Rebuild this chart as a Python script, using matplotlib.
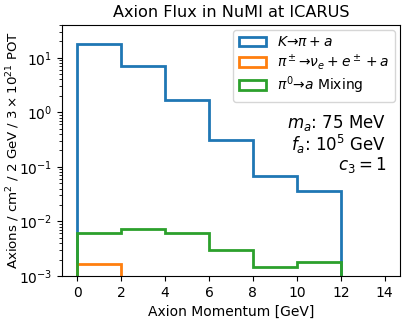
import matplotlib
matplotlib.use("Agg")
import matplotlib.pyplot as plt
import numpy as np

bin_edges = [0, 2, 4, 6, 8, 10, 12, 14]
bin_centers = [1, 3, 5, 7, 9, 11, 13]
flux_kaon = [18.0, 7.1, 1.66, 0.31, 0.068, 0.036, 0.0]
flux_pion_charged = [0.00167, 0.0, 0.0, 0.0, 0.0, 0.0, 0.0]
flux_pion_mixing = [0.0062, 0.0072, 0.0062, 0.0030, 0.00147, 0.00178, 0.0]

labels = [r'$K$→$\pi + a$',
          r'$\pi^\pm$→$\nu_e + e^\pm + a$',
          r'$\pi^0$→$a$ Mixing']

fig = plt.figure(figsize=(4.07, 3.19), dpi=100)
ax = fig.add_axes([0.152, 0.135, 0.831, 0.787])

for w, lab in zip([flux_kaon, flux_pion_charged, flux_pion_mixing], labels):
    ax.hist(bin_centers, bins=bin_edges, weights=w, histtype='step',
            linewidth=2, label=lab)

ax.set_yscale('log')
ax.set_ylim(1e-3, 40)
ax.set_xticks([0, 2, 4, 6, 8, 10, 12, 14])
ax.set_xlabel('Axion Momentum [GeV]')
ax.set_ylabel(r'Axions / cm$^2$ / 2 GeV / $3\times10^{21}$ POT', fontsize=9.6)
ax.yaxis.set_label_coords(-0.118, 0.5)
ax.set_title('Axion Flux in NuMI at ICARUS', fontsize=11.6)
ax.legend(loc='upper right', fontsize=10, labelspacing=0.2,
          borderaxespad=0.35)

ax.text(0.959, 0.61, r'$m_a$: 75 MeV', transform=ax.transAxes,
        ha='right', va='center', fontsize=12)
ax.text(0.959, 0.525, r'$f_a$: $10^5$ GeV', transform=ax.transAxes,
        ha='right', va='center', fontsize=12)
ax.text(0.959, 0.44, r'$c_3 = 1$', transform=ax.transAxes,
        ha='right', va='center', fontsize=12)

fig.savefig('out.png', dpi=100)
